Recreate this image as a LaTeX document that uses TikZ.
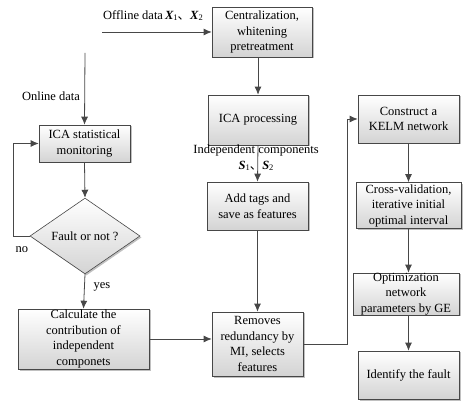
\documentclass[tikz,border=0pt]{standalone}
\usepackage{fontspec}
\setmainfont{Liberation Serif}
\newfontfamily\cjk{Noto Sans CJK SC}
\usetikzlibrary{shapes.geometric,shadows,arrows.meta}
\newcommand{\bx}[2]{{\bfseries\itshape #1}\raisebox{-1pt}{\fontsize{8.5}{8.5}\selectfont #2}}
\begin{document}
\begin{tikzpicture}[x=1pt,y=-1pt,
  box/.style={draw=black!72, line width=0.6pt, top color=white, bottom color=black!17,
    drop shadow={shadow xshift=1.5pt,shadow yshift=-1.5pt,fill=black!45,opacity=0.55},
    align=center, inner sep=1pt, font=\fontsize{12.5}{15.5}\selectfont},
  arr/.style={draw=black!72, line width=0.8pt, -{Latex[length=8pt,width=7pt]}},
  lbl/.style={font=\fontsize{12.5}{15}\selectfont, inner sep=0pt}]
\useasboundingbox (0,0) rectangle (469,406);

\node[box, minimum width=100pt, minimum height=50pt] (cen) at (262,32) {Centralization,\\whitening\\pretreatment};
\node[box, minimum width=100pt, minimum height=50pt] (icap) at (258,120) {ICA processing};
\node[box, minimum width=101pt, minimum height=48pt] (add) at (257.5,206) {Add tags and\\save as features};
\node[box, minimum width=91pt, minimum height=64pt, inner sep=0pt] (rem) at (257.5,344) {Removes\\redundancy by\\MI, selects\\features};
\node[box, minimum width=91pt, minimum height=37pt] (icas) at (84.5,143.5) {ICA statistical\\monitoring};
\node[box, diamond, minimum width=110pt, minimum height=58pt, inner sep=0pt] (dia) at (85,236) {Fault or not ?};
\node[box, minimum width=131pt, minimum height=60pt, inner sep=0pt] (calc) at (83.5,339) {Calculate the\\contribution of\\independent\\componets};
\node[box, minimum width=101pt, minimum height=48pt] (kelm) at (408.5,119) {Construct a\\KELM network};
\node[box, minimum width=105pt, minimum height=46pt] (cross) at (408.5,205.5) {Cross-validation,\\iterative initial\\optimal interval};
\node[box, minimum width=106pt, minimum height=42pt, inner sep=0pt] (opt) at (406,294) {Optimization\\network\\parameters by GE};
\node[box, minimum width=101pt, minimum height=48pt] (iden) at (408.5,375) {Identify the fault};

% offline data
\coordinate (offs) at (102,32);
\draw[arr] (offs) -- (cen.west);
\node[lbl] (offl) at (153,16) {Offline data\,\bx{X}{1}{\cjk 、}\bx{X}{2}};

% online data
\coordinate (onl) at (85,53);
\draw[arr] (onl) -- (icas.north);
\node[lbl] (onlbl) at (51,96) {Online data};

\draw[arr] (icas.south) -- (dia.north);
\coordinate (lp) at (13,236);
\draw[arr] (dia.west) -- (lp) |- (icas.west);
\node[lbl] (no) at (22,250) {no};
\draw[arr] (dia.south) -- (calc.north);
\node[lbl] (yes) at (102,287) {yes};
\draw[arr] (calc.east) -- (calc.east -| rem.west);

\draw[arr] (cen.south -| icap.north) -- (icap.north);
\draw[arr] (icap.south) -- (add.north);
\node[lbl] (indc) at (256,150) {Independent components};
\node[lbl] (s12) at (256,166) {\bx{S}{1}{\cjk 、}\bx{S}{2}};
\draw[arr] (add.south) -- (rem.north);

\coordinate (rk) at (347,344);
\draw[arr] (rem.east) -- (rk) |- (kelm.west);
\draw[arr] (kelm.south) -- (cross.north);
\draw[arr] (cross.south) -- (cross.south |- opt.north);
\draw[arr] (opt.south -| iden.north) -- (iden.north);
\end{tikzpicture}
\end{document}
